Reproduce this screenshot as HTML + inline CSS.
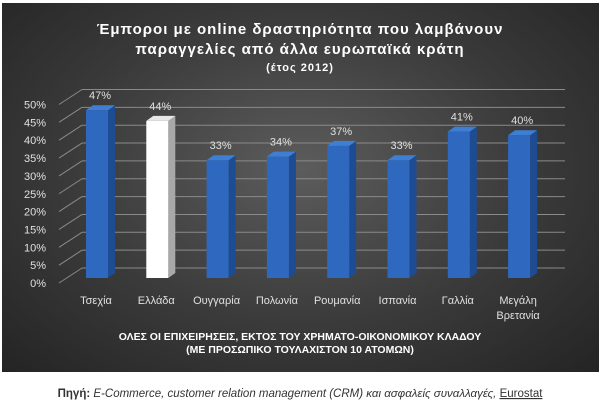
<!DOCTYPE html>
<html><head><meta charset="utf-8"><style>
body{margin:0;width:600px;height:411px;background:#fff;overflow:hidden;font-family:"Liberation Sans","DejaVu Sans",sans-serif}
#panel{position:absolute;left:2px;top:3px;width:597px;height:369px;background:radial-gradient(ellipse at 50% 45%,#5c5c5c 0%,#3a3a3a 55%,#242424 100%)}
svg{position:absolute;left:0;top:0}
</style></head><body>
<div id="panel"></div>
<svg width="600" height="411" id="chart">
<text x="300" y="34" text-anchor="middle" fill="#fff" font-size="15" font-weight="bold" letter-spacing="1">Έμποροι με online δραστηριότητα που λαμβάνουν</text>
<text x="300" y="54" text-anchor="middle" fill="#fff" font-size="15" font-weight="bold" letter-spacing="1">παραγγελίες από άλλα ευρωπαϊκά κράτη</text>
<text x="300" y="71" text-anchor="middle" fill="#fff" font-size="11" font-weight="bold" letter-spacing="1">(έτος 2012)</text>
<g id="axes"></g><g id="bars"></g>
<text x="300" y="340" text-anchor="middle" fill="#fff" font-size="10.5" font-weight="bold">ΟΛΕΣ ΟΙ ΕΠΙΧΕΙΡΗΣΕΙΣ, ΕΚΤΟΣ ΤΟΥ ΧΡΗΜΑΤΟ-ΟΙΚΟΝΟΜΙΚΟΥ ΚΛΑΔΟΥ</text>
<text x="300" y="353" text-anchor="middle" fill="#fff" font-size="10.5" font-weight="bold">(ΜΕ ΠΡΟΣΩΠΙΚΟ ΤΟΥΛΑΧΙΣΤΟΝ 10 ΑΤΟΜΩΝ)</text>
<text x="300" y="397" text-anchor="middle" fill="#333" font-size="11.5"><tspan font-weight="bold">Πηγή:</tspan> <tspan font-style="italic">E-Commerce,  customer relation management (CRM) και ασφαλείς συναλλαγές,</tspan> <tspan text-decoration="underline">Eurostat</tspan></text>
</svg>
<script>
const categories=["Τσεχία","Ελλάδα","Ουγγαρία","Πολωνία","Ρουμανία","Ισπανία","Γαλλία","Μεγάλη|Βρετανία"];
const values=[47,44,33,34,37,33,41,40];
const highlight=[false,true,false,false,false,false,false,false];
const yTicks=[0,5,10,15,20,25,30,35,40,45,50];
const NS="http://www.w3.org/2000/svg";
const PX=3.57;
function yFront(v){return 283-v*PX;}
function yBack(v){return 268-v*PX;}
function yBar(v){return 278-v*PX;}
function xBar(i){return 86+i*60.3;}
function mk(tag,a,p){const e=document.createElementNS(NS,tag);for(const k in a)e.setAttribute(k,a[k]);p.appendChild(e);return e;}
const axes=document.getElementById('axes'),bars=document.getElementById('bars');
yTicks.forEach(v=>{
  const g=mk('line',{x1:82,y1:yBack(v),x2:565,y2:yBack(v),stroke:'#8a8a8a','stroke-width':1},axes);
  
  
  const d=mk('line',{x1:59,y1:yFront(v),x2:82,y2:yBack(v),stroke:'#8a8a8a','stroke-width':1},axes);
  
  
  const t=mk('text',{x:46,y:yFront(v)+4,'text-anchor':'end',fill:'#e0e0e0','font-size':11},axes);
  t.textContent=v+'%';
  
  
});
const W=22,D=7,U=5;
values.forEach((v,i)=>{
  const x=xBar(i),top=yBar(v),base=yBar(0);
  const hl=highlight[i];
  const g=mk('g',{},bars);
  
  
  mk('polygon',{points:`${x+W},${top} ${x+W+D},${top-U} ${x+W+D},${base-U} ${x+W},${base}`,fill:hl?'#a8a8a8':'#1e4c92'},g);
  mk('polygon',{points:`${x},${top} ${x+D},${top-U} ${x+W+D},${top-U} ${x+W},${top}`,fill:hl?'#e8e8e8':'#3f7fd3'},g);
  mk('rect',{x:x,y:top,width:W,height:base-top,fill:hl?'#ffffff':'#2e69bf'},g);
  const l=mk('text',{x:x+W/2+3,y:top-11,'text-anchor':'middle',fill:'#e0e0e0','font-size':11},bars);
  l.textContent=v+'%';
  
  
  const parts=categories[i].split('|');
  parts.forEach((p,j)=>{
    const c=mk('text',{x:x+W/2-1,y:304+j*15,'text-anchor':'middle',fill:'#e0e0e0','font-size':11},bars);
    c.textContent=p;
    
    
  });
});
</script>
</body></html>
